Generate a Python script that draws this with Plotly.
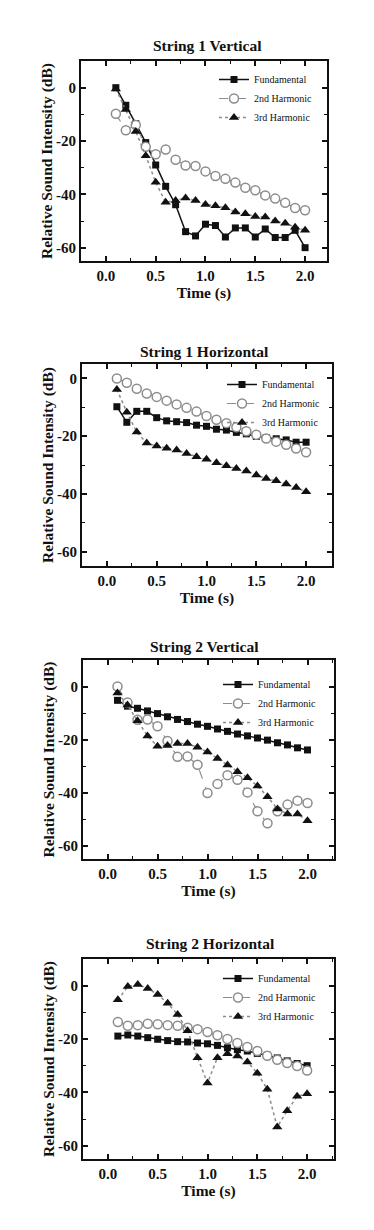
import plotly.graph_objects as go

W, H = 374, 1230
PAGE_PAD = 8  # default body margin of the html page
ink = '#111111'
grey = '#8c8c8c'
serif = 'Liberation Serif, Times New Roman, serif'

time_s = [0.1, 0.2, 0.3, 0.4, 0.5, 0.6, 0.7, 0.8, 0.9, 1.0,
          1.1, 1.2, 1.3, 1.4, 1.5, 1.6, 1.7, 1.8, 1.9, 2.0]

panel_titles = ["String 1 Vertical", "String 1 Horizontal",
                "String 2 Vertical", "String 2 Horizontal"]
series_names = ["Fundamental", "2nd Harmonic", "3rd Harmonic"]

# String 1 Vertical
s1v_fund = [0.0, -6.6, -13.5, -20.6, -29.0, -37.0, -43.9, -54.0, -55.6, -51.2,
            -51.7, -56.0, -52.6, -52.6, -56.0, -53.0, -56.2, -56.2, -53.5, -60.0]
s1v_2nd = [-9.8, -16.0, -14.0, -22.2, -25.0, -23.2, -27.0, -29.2, -29.4, -31.4,
           -33.1, -34.2, -35.6, -37.5, -38.5, -40.4, -41.6, -43.2, -45.1, -46.0]
s1v_3rd = [-0.5, -8.2, -16.4, -25.5, -35.5, -43.0, -42.3, -41.4, -42.3, -43.8,
           -44.3, -45.0, -46.6, -47.3, -48.3, -48.5, -50.0, -50.8, -52.3, -53.5]

# String 1 Horizontal
s1h_fund = [-9.8, -15.2, -11.4, -11.4, -13.6, -14.7, -15.0, -15.3, -16.2, -16.6,
            -17.6, -17.9, -18.7, -19.2, -20.1, -20.5, -20.9, -21.3, -22.1, -22.1]
s1h_2nd = [0.0, -1.5, -3.6, -5.2, -6.4, -7.7, -9.0, -10.2, -11.5, -13.0,
           -14.3, -15.5, -16.9, -18.3, -19.5, -20.8, -21.9, -23.0, -24.3, -25.6]
s1h_3rd = [-3.8, -11.7, -18.6, -22.4, -23.4, -24.2, -24.8, -26.0, -27.1, -28.0,
           -29.2, -30.3, -31.2, -32.1, -33.5, -34.7, -35.5, -36.6, -37.8, -39.3]

# String 2 Vertical
s2v_fund = [-5.2, -7.4, -8.2, -9.2, -10.2, -11.4, -12.4, -13.2, -14.2, -15.0,
            -16.0, -16.9, -17.9, -18.6, -19.4, -20.2, -21.2, -22.0, -23.1, -23.9]
s2v_2nd = [0.0, -6.0, -12.5, -12.4, -15.0, -20.5, -26.5, -26.4, -29.5, -40.1,
           -36.7, -33.4, -35.1, -39.9, -47.0, -51.5, -47.0, -44.5, -43.0, -43.9]
s2v_3rd = [-2.4, -7.0, -12.9, -18.6, -22.5, -22.2, -21.5, -21.5, -22.9, -24.7,
           -27.1, -29.6, -32.1, -34.4, -37.5, -41.5, -46.2, -48.0, -48.0, -50.6]

# String 2 Horizontal
s2h_fund = [-18.9, -18.5, -18.9, -19.5, -20.1, -20.6, -21.0, -21.1, -21.5, -21.8,
            -22.4, -23.3, -24.0, -24.5, -25.4, -26.1, -27.1, -28.2, -29.2, -30.0]
s2h_2nd = [-13.6, -15.0, -14.8, -14.3, -14.5, -14.8, -15.0, -15.8, -16.3, -17.4,
           -18.6, -20.0, -21.5, -23.0, -24.5, -26.3, -27.8, -29.0, -30.1, -31.8]
s2h_3rd = [-5.3, -0.3, 0.4, -1.1, -3.3, -6.6, -10.8, -16.9, -27.0, -36.5,
           -27.0, -25.5, -26.4, -28.6, -32.8, -38.8, -53.0, -46.9, -41.5, -40.5]

x_ticks = [0.0, 0.5, 1.0, 1.5, 2.0]
x_tick_labels = ["0.0", "0.5", "1.0", "1.5", "2.0"]
y_ticks = [-60, -40, -20, 0]
y_tick_labels = ["-60", "-40", "-20", "0"]

panels = [
    (s1v_fund, s1v_2nd, s1v_3rd),
    (s1h_fund, s1h_2nd, s1h_3rd),
    (s2v_fund, s2v_2nd, s2v_3rd),
    (s2h_fund, s2h_2nd, s2h_3rd),
]

# frame boxes in page pixels: left, right, top, bottom
frames = [(81, 327, 61, 261), (82, 332, 364, 566), (83, 334, 660, 859), (83, 334, 959, 1159)]
x_ranges = [[-0.25, 2.22], [-0.25, 2.26], [-0.245, 2.265], [-0.25, 2.27]]
y_ranges = [[-65, 10], [-65, 5], [-65, 10], [-65, 10]]
title_pos = [(207, 45), (204, 351), (204, 646), (211, 943)]
legend_pos = [(318, 65), (326, 370), (322, 670), (322, 964)]
x_standoff = [3, 3, 0, 0]

styles = [
    dict(line=dict(color=ink, width=1.5),
         marker=dict(symbol='square', size=7, color=ink)),
    dict(line=dict(color=grey, width=1.2, dash='dash'),
         marker=dict(symbol='circle', size=9, color='white', line=dict(color=grey, width=1.5))),
    dict(line=dict(color=grey, width=1.5, dash='dot'),
         marker=dict(symbol='triangle-up', size=9, color=ink)),
]

FW, FH = W - PAGE_PAD, H - PAGE_PAD


def px_x(p):
    return (p - PAGE_PAD) / FW


def px_y(p):
    return 1 - (p - PAGE_PAD) / FH


def bold(s):
    return '<b>' + s + '</b>'


fig = go.Figure()
layout = dict(width=FW, height=FH, margin=dict(l=0, r=0, t=0, b=0),
              paper_bgcolor='white', plot_bgcolor='white',
              font=dict(family=serif, size=15, color=ink),
              showlegend=True, annotations=[])

for i, series in enumerate(panels):
    n = '' if i == 0 else str(i + 1)
    leg = 'legend' + n
    for name, vals, st in zip(series_names, series, styles):
        fig.add_trace(go.Scatter(x=time_s, y=vals, name=name, mode='lines+markers',
                                 xaxis='x' + n, yaxis='y' + n, legend=leg, **st))

    left, right, top, bottom = frames[i]
    axis_common = dict(showline=True, linewidth=2, linecolor=ink, mirror='allticks',
                       ticks='inside', ticklen=5, tickwidth=1.5, tickcolor=ink,
                       showgrid=False, zeroline=False,
                       tickfont=dict(family=serif, size=15, color=ink, weight='bold'))
    layout['xaxis' + n] = dict(axis_common, domain=[px_x(left), px_x(right)],
                               anchor='y' + n, range=x_ranges[i],
                               tickvals=x_ticks, ticktext=x_tick_labels,
                               minor=dict(dtick=0.25, tick0=0, ticks='inside', ticklen=3,
                                          tickwidth=1.2, tickcolor=ink),
                               title=dict(text=bold('Time (s)'), standoff=x_standoff[i],
                                          font=dict(family=serif, size=15.5, color=ink)))
    layout['yaxis' + n] = dict(axis_common, domain=[px_y(bottom), px_y(top)],
                               anchor='x' + n, range=y_ranges[i],
                               tickvals=y_ticks, ticktext=y_tick_labels,
                               minor=dict(dtick=10, tick0=0, ticks='inside', ticklen=3,
                                          tickwidth=1.2, tickcolor=ink),
                               title=dict(text=bold('Relative Sound Intensity (dB)'), standoff=0,
                                          font=dict(family=serif, size=15.5, color=ink)))
    lx, ly = legend_pos[i]
    layout[leg] = dict(x=px_x(lx), y=px_y(ly), xanchor='right', yanchor='top',
                       xref='paper', yref='paper', bgcolor='rgba(0,0,0,0)',
                       font=dict(family=serif, size=10, color=ink),
                       itemwidth=30, tracegroupgap=0)
    tx, ty = title_pos[i]
    layout['annotations'].append(dict(text=bold(panel_titles[i]), x=px_x(tx), y=px_y(ty),
                                      xref='paper', yref='paper', showarrow=False,
                                      xanchor='center', yanchor='middle',
                                      font=dict(family=serif, size=15.5, color=ink)))

fig.update_layout(**layout)
fig.write_html("out.html")
